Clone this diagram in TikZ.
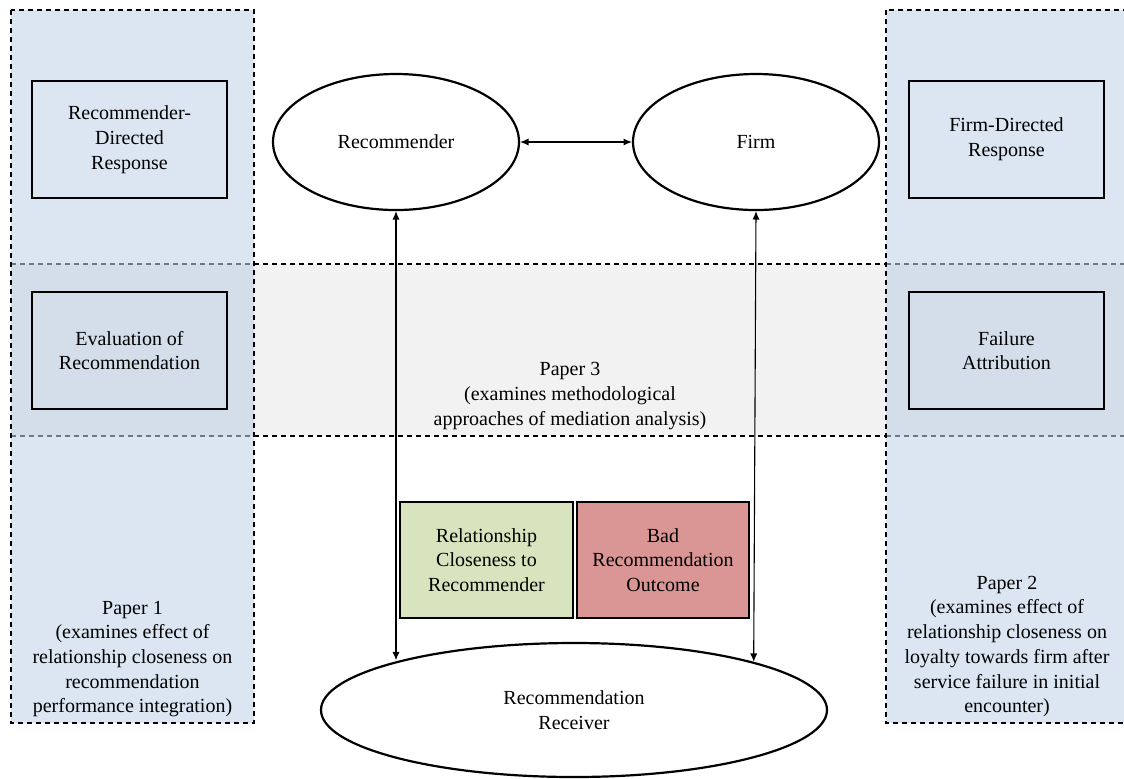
\documentclass[tikz,border=0pt]{standalone}
\usepackage{fontspec}
\setmainfont{Liberation Serif}
\usetikzlibrary{shapes.geometric,arrows.meta}
\definecolor{colblue}{HTML}{DCE6F2}
\definecolor{bandblue}{HTML}{D3DEEA}
\definecolor{bandgrey}{HTML}{F2F2F2}
\definecolor{relgreen}{HTML}{D7E4BD}
\definecolor{badred}{HTML}{D99694}
\definecolor{dashgrey}{HTML}{6F7782}
\begin{document}
\begin{tikzpicture}[x=0.5pt,y=-0.5pt,
  every node/.style={font=\rmfamily\fontsize{10}{12.35}\selectfont, align=center},
  dsh/.style={dash pattern=on 2.7pt off 1.8pt, line width=0.65pt},
  boxnode/.style={draw, line width=0.7pt, minimum width=97.5pt, minimum height=58.5pt, inner sep=0pt},
  oval/.style={draw, ellipse, line width=1.1pt, fill=white, inner sep=0pt},
  conn/.style={{Latex[length=4.2pt,width=3.6pt]}-{Latex[length=4.2pt,width=3.6pt]}, line width=0.55pt}]
\useasboundingbox (0,0) rectangle (1124,778);
% columns and band
\fill[colblue] (11,10) rectangle (254,723);
\fill[colblue] (886,10) rectangle (1140,723);
\fill[bandgrey] (254,264) rectangle (886,436);
\fill[bandblue] (11,264) rectangle (254,436);
\fill[bandblue] (886,264) rectangle (1140,436);
\draw[dsh] (254,264) -- (886,264);
\draw[dsh] (254,436) -- (886,436);
\draw[dsh,dashgrey] (11,264) -- (254,264);
\draw[dsh,dashgrey] (11,436) -- (254,436);
\draw[dsh,dashgrey] (886,264) -- (1140,264);
\draw[dsh,dashgrey] (886,436) -- (1140,436);
\draw[dsh] (11,10) rectangle (254,723);
\draw[dsh] (886,10) rectangle (1140,723);
% side boxes
\node[boxnode] (rdr) at (129.5,139.5) {Recommender-\\Directed\\Response};
\node[boxnode, fill=bandblue] (eval) at (129.5,350.5) {Evaluation of\\Recommendation};
\node[boxnode] (fdr) at (1006.5,139.5) {Firm-Directed\\Response};
\node[boxnode, fill=bandblue] (fattr) at (1006.5,350.5) {Failure\\Attribution};
% paper texts
\node (p3) at (570,396) {Paper 3\\(examines methodological\\approaches of mediation analysis)};
\node (p1) at (132.5,659) {Paper 1\\(examines effect of\\relationship closeness on\\recommendation\\performance integration)};
\node (p2) at (1007,646.5) {Paper 2\\(examines effect of\\relationship closeness on\\loyalty towards firm after\\service failure in initial\\encounter)};
% ellipses
\node[oval, minimum width=123pt, minimum height=68pt] (rec) at (396,142) {Recommender};
\node[oval, minimum width=123pt, minimum height=68pt] (firm) at (756,142) {Firm};
\node[oval, minimum width=253pt, minimum height=67pt] (recv) at (574,710) {Recommendation\\Receiver};
% middle boxes
\node[boxnode, fill=relgreen, minimum width=86.5pt, minimum height=58pt] (rel) at (486.5,560) {Relationship\\Closeness to\\Recommender};
\node[boxnode, fill=badred, minimum width=86pt, minimum height=58pt] (bad) at (663,560) {Bad\\Recommendation\\Outcome};
% connectors
\draw[conn] (rec.east) -- (firm.west);
\draw[conn] (rec.south) -- (rec.south |- recv.164.9);
\draw[conn] (firm.south) -- (recv.15.1);
\end{tikzpicture}
\end{document}
